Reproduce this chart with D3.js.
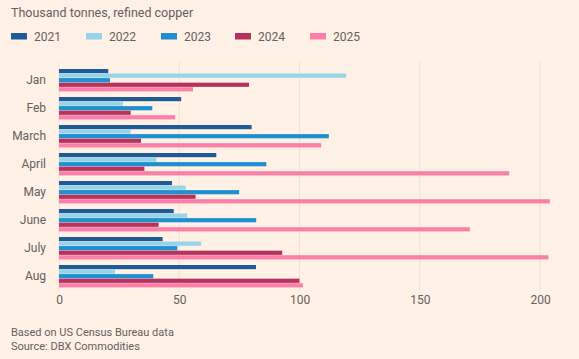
<!DOCTYPE html>
<html>
<head>
<meta charset="utf-8">
<script src="https://cdn.jsdelivr.net/npm/d3@7"></script>
<style>
  html, body { margin: 0; padding: 0; background: #fff1e5; }
  svg { display: block; }
  text { font-family: "Roboto", "Noto Sans", sans-serif; fill: #66605c; }
</style>
</head>
<body>
<svg id="chart" width="579" height="359"></svg>
<script>
const months = ["Jan", "Feb", "March", "April", "May", "June", "July", "Aug"];
const years = ["2021", "2022", "2023", "2024", "2025"];
const colors = ["#1f5b94", "#96d4ea", "#1f8fd0", "#b3325e", "#fc7fa8"];
const v2021 = [20.5, 50.8, 80.1, 65.4, 47.0, 47.7, 43.1, 81.9];
const v2022 = [119.4, 26.6, 29.8, 40.5, 52.7, 53.3, 59.1, 23.3];
const v2023 = [21.2, 38.8, 112.2, 86.2, 74.9, 82.0, 49.2, 39.2];
const v2024 = [79.0, 29.8, 34.1, 35.5, 56.8, 41.4, 92.8, 100.0];
const v2025 = [55.7, 48.3, 109.0, 187.2, 204.1, 170.8, 203.5, 101.4];
const xTicks = [0, 50, 100, 150, 200];
const titleText = "Thousand tonnes, refined copper";
const notes = ["Based on US Census Bureau data", "Source: DBX Commodities"];

const series = [v2021, v2022, v2023, v2024, v2025];

const svg = d3.select("#chart");
svg.append("rect").attr("width", 579).attr("height", 359).attr("fill", "#fff1e5");

const x = d3.scaleLinear().domain([0, 200]).range([59, 540]);
const y = d3.scaleBand().domain(months).range([66.2, 290.2]).paddingInner(0.2).paddingOuter(0.1);
const yInner = d3.scaleBand().domain(years).range([0, y.bandwidth()]).paddingInner(0.08);

// title
svg.append("text").attr("x", 11).attr("y", 17).attr("font-size", 12.5).text(titleText);

// legend
const legendX = [11, 86, 161, 235, 310];
const lg = svg.append("g");
years.forEach((yr, i) => {
  lg.append("rect").attr("x", legendX[i]).attr("y", 33).attr("width", 16).attr("height", 6.5).attr("fill", colors[i]);
  lg.append("text").attr("x", legendX[i] + 23).attr("y", 40.5).attr("font-size", 12).text(yr);
});

// grid
svg.append("g").selectAll("line").data(xTicks).join("line")
  .attr("x1", d => x(d)).attr("x2", d => x(d))
  .attr("y1", 62).attr("y2", 292)
  .attr("stroke", "#f0e1d4").attr("stroke-width", 1);

// bars
const groups = svg.append("g").selectAll("g").data(months).join("g")
  .attr("transform", d => `translate(0,${y(d)})`);
groups.each(function(m, mi) {
  d3.select(this).selectAll("rect").data(years).join("rect")
    .attr("x", x(0))
    .attr("y", yr => yInner(yr))
    .attr("height", yInner.bandwidth())
    .attr("width", (yr, si) => x(series[si][mi]) - x(0))
    .attr("fill", (yr, si) => colors[si]);
});

// y axis labels
const yAxis = d3.axisLeft(y).tickSize(0).tickPadding(0);
const yg = svg.append("g").attr("transform", "translate(46,0)").call(yAxis);
yg.select(".domain").remove();
yg.selectAll("text").attr("font-size", 12).attr("fill", "#66605c");
yg.attr("font-family", null);

// x axis
const xAxis = d3.axisBottom(x).tickValues(xTicks).tickSize(0).tickPadding(0);
const xg = svg.append("g").attr("transform", "translate(0,295)").call(xAxis);
xg.select(".domain").remove();
xg.selectAll("text").attr("font-size", 12).attr("fill", "#66605c").attr("dy", "0.71em");
xg.attr("font-family", null);

// notes
notes.forEach((t, i) => {
  svg.append("text").attr("x", 11).attr("y", 336 + i * 13.5).attr("font-size", 11).text(t);
});
</script>
</body>
</html>
